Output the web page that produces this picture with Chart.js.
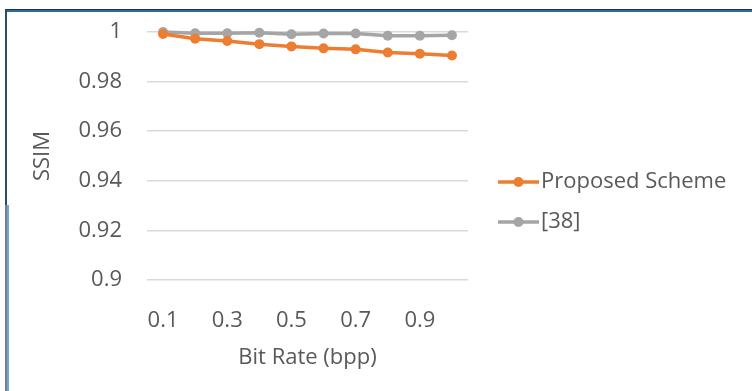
<!DOCTYPE html>
<html>
<head>
<meta charset="utf-8">
<script src="https://cdn.jsdelivr.net/npm/chart.js@4.4.1/dist/chart.umd.min.js"></script>
<style>
  body { margin: 0; background: #fff; }
  #wrap { position: relative; width: 752px; height: 391px; overflow: hidden; }
  #myChart { position: absolute; left: 0; top: 0; }
  .edge { position: absolute; pointer-events: none; }
</style>
</head>
<body>
<div id="wrap">
  <canvas id="myChart" width="752" height="391"></canvas>
  <div class="edge" style="left:5px;top:9px;width:747px;height:3px;background:linear-gradient(#1b3444 0 1px,#2b6c99 1px 3px);"></div>
  <div class="edge" style="left:5px;top:9px;width:2px;height:196px;background:#2c4d60;"></div>
  <div class="edge" style="left:5px;top:205px;width:2px;height:186px;background:#7b7f84;"></div>
  <div class="edge" style="left:7px;top:205px;width:2px;height:186px;background:#6ea8da;"></div>
</div>
<script>
// values
var bitRates = ["0.1","0.2","0.3","0.4","0.5","0.6","0.7","0.8","0.9","1"];
var xTickLabels = ["0.1","","0.3","","0.5","","0.7","","0.9",""];
var proposed = [0.9992,0.9973,0.9964,0.9951,0.9942,0.9934,0.9930,0.9917,0.9912,0.9905];
var ref38 = [1.0000,0.9995,0.9995,0.9997,0.9991,0.9994,0.9994,0.9985,0.9985,0.9987];
var seriesNames = ["Proposed Scheme","[38]"];
var yTicks = [0.9,0.92,0.94,0.96,0.98,1];

var orange = "#ED7D31";
var grey = "#A5A5A5";
var txt = "#595959";
var fam = "'Open Sans', 'Liberation Sans', sans-serif";

// little line-with-dot icons for the legend (left part left transparent)
function legendIcon(color)
{
    var c = document.createElement("canvas");
    c.width = 62; c.height = 12;
    var g = c.getContext("2d");
    g.strokeStyle = color;
    g.lineWidth = 3.5;
    g.beginPath(); g.moveTo(21, 6); g.lineTo(62, 6); g.stroke();
    g.fillStyle = color;
    g.beginPath(); g.arc(41.5, 6, 5, 0, Math.PI * 2); g.fill();
    return c;
}
var icons = [legendIcon(orange), legendIcon(grey)];

// legend width = 2*pad + 44 + 11 + text; keep plot right edge near 467
var m = document.createElement("canvas").getContext("2d");
m.font = "22px " + fam;
var legW = 18 * 2 + 44 + 11 + m.measureText(seriesNames[0]).width;
var padRight = Math.max(0, 292 - legW);

const ctx = document.getElementById("myChart");
new Chart(ctx, {
    type: "line",
    data: {
        labels: bitRates,
        datasets: [{
            label: seriesNames[0],
            data: proposed,
            borderColor: orange,
            backgroundColor: orange,
            borderWidth: 3.5,
            pointRadius: 5,
            pointHoverRadius: 5,
            pointBorderWidth: 0,
            clip: false
        }, {
            label: seriesNames[1],
            data: ref38,
            borderColor: grey,
            backgroundColor: grey,
            borderWidth: 3.5,
            pointRadius: 5,
            pointHoverRadius: 5,
            pointBorderWidth: 0,
            clip: false
        }]
    },
    options: {
        responsive: false,
        animation: false,
        layout: { padding: { top: 32, left: 0, right: padRight, bottom: 19 } },
        plugins: {
            tooltip: { enabled: false },
            legend: {
                position: "right",
                maxWidth: 330,
                labels: {
                    usePointStyle: true,
                    pointStyleWidth: 44,
                    padding: 18,
                    color: txt,
                    font: { family: fam, size: 22, lineHeight: 1.2 },
                    generateLabels: function(chart) {
                        var items = Chart.defaults.plugins.legend.labels.generateLabels(chart);
                        items.forEach(function(it, i) { it.pointStyle = icons[i]; });
                        return items;
                    }
                }
            }
        },
        scales: {
            x: {
                offset: true,
                border: { display: false },
                // invisible tick marks give the gap under the plot
                grid: { display: true, drawOnChartArea: false, tickLength: 23, tickColor: "rgba(0,0,0,0)" },
                ticks: {
                    autoSkip: false,
                    maxRotation: 0,
                    padding: 5,
                    color: txt,
                    font: { family: fam, size: 22, lineHeight: 1.2 },
                    callback: function(v, i) { return xTickLabels[i]; }
                },
                title: {
                    display: true,
                    text: "Bit Rate (bpp)",
                    color: txt,
                    font: { family: fam, size: 22, lineHeight: 1.2 },
                    padding: { top: 0, bottom: 1 }
                },
                afterFit: function(scale) { scale.height = 92; }
            },
            y: {
                min: 0.9,
                max: 1,
                border: { display: false },
                grid: { color: "#D9D9D9", lineWidth: 1.5, tickLength: 20, tickColor: "rgba(0,0,0,0)" },
                afterBuildTicks: function(scale) {
                    scale.ticks = yTicks.map(function(v) { return { value: v }; });
                },
                ticks: {
                    padding: 5,
                    color: txt,
                    font: { family: fam, size: 22, lineHeight: 1.2 },
                    callback: function(v) { return String(+v.toFixed(2)); }
                },
                title: {
                    display: true,
                    text: "SSIM",
                    color: txt,
                    font: { family: fam, size: 22, lineHeight: 1.2 },
                    padding: { top: 30, bottom: 0 }
                },
                afterFit: function(scale) { scale.width = 147; }
            }
        }
    }
});
</script>
</body>
</html>
